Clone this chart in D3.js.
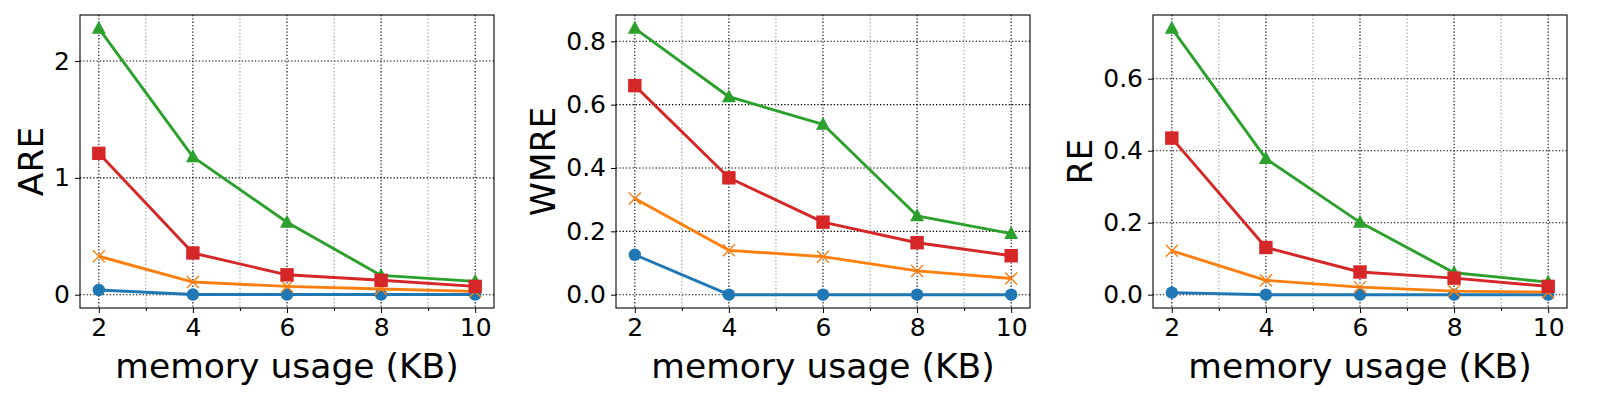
<!DOCTYPE html>
<html>
<head>
<meta charset="utf-8">
<script src="https://cdn.jsdelivr.net/npm/d3@7"></script>
<style>
  body { margin: 0; background: #fff; }
  svg { font-family: "DejaVu Sans", sans-serif; }
</style>
</head>
<body>
<div id="chart"></div>
<script>
// memory sizes (KB) on the x axis
var memory = [2, 4, 6, 8, 10];
var xTicks = [2, 4, 6, 8, 10];
var xMinor = [3, 5, 7, 9];

// ARE panel
var areBlue   = [0.04, 0.001, 0.001, 0.001, 0.001];
var areOrange = [0.329, 0.108, 0.071, 0.048, 0.028];
var areGreen  = [2.28, 1.18, 0.62, 0.165, 0.114];
var areRed    = [1.21, 0.357, 0.17, 0.123, 0.071];
var areTicks  = [0, 1, 2];

// WMRE panel
var wmreBlue   = [0.126, 0, 0, 0, 0];
var wmreOrange = [0.304, 0.140, 0.120, 0.075, 0.051];
var wmreGreen  = [0.841, 0.625, 0.538, 0.249, 0.193];
var wmreRed    = [0.66, 0.369, 0.229, 0.164, 0.123];
var wmreTicks  = [0.0, 0.2, 0.4, 0.6, 0.8];

// RE panel
var reBlue   = [0.0056, 0, 0, 0, 0];
var reOrange = [0.122, 0.040, 0.021, 0.010, 0.007];
var reGreen  = [0.74, 0.378, 0.201, 0.061, 0.035];
var reRed    = [0.435, 0.131, 0.063, 0.046, 0.023];
var reTicks  = [0.0, 0.2, 0.4, 0.6];

var panels = [
  { label: "ARE", left: 80, series: [areBlue, areOrange, areGreen, areRed], ticks: areTicks, fmt: d3.format("d") },
  { label: "WMRE", left: 616, series: [wmreBlue, wmreOrange, wmreGreen, wmreRed], ticks: wmreTicks, fmt: d3.format(".1f") },
  { label: "RE", left: 1153, series: [reBlue, reOrange, reGreen, reRed], ticks: reTicks, fmt: d3.format(".1f") }
];

var colors = ["#1f77b4", "#ff7f0e", "#2ca02c", "#d62728"];
var shapes = ["circle", "x", "triangle", "square"];

var W = 1600, H = 400,
    mTop = 15, pw = 414, ph = 293;

var svg = d3.select("#chart")
  .append("svg")
  .attr("width", W)
  .attr("height", H);

panels.forEach(function (p) {
  var x = d3.scaleLinear()
    .domain([1.6, 10.4])
    .range([0, pw]);

  // 5% padding like matplotlib's default margins
  var maxV = d3.max(p.series, function (s) { return d3.max(s); });
  var pad = maxV * 0.05;
  var y = d3.scaleLinear()
    .domain([-pad, maxV + pad])
    .range([ph, 0]);

  var g = svg.append("g")
    .attr("transform", "translate(" + p.left + "," + mTop + ")");

  // minor grid (x only)
  g.selectAll(".minor")
    .data(xMinor)
    .enter()
    .append("line")
    .attr("x1", d => x(d)).attr("x2", d => x(d))
    .attr("y1", 0).attr("y2", ph)
    .attr("stroke", "#8c8c8c")
    .attr("stroke-width", 1)
    .attr("stroke-dasharray", "1.3,2.2");

  // major grid
  g.selectAll(".vgrid")
    .data(xTicks)
    .enter()
    .append("line")
    .attr("x1", d => x(d)).attr("x2", d => x(d))
    .attr("y1", 0).attr("y2", ph)
    .attr("stroke", "#000")
    .attr("stroke-width", 1.1)
    .attr("stroke-dasharray", "1.3,2");

  g.selectAll(".hgrid")
    .data(p.ticks)
    .enter()
    .append("line")
    .attr("x1", 0).attr("x2", pw)
    .attr("y1", d => y(d)).attr("y2", d => y(d))
    .attr("stroke", "#000")
    .attr("stroke-width", 1.1)
    .attr("stroke-dasharray", "1.3,2");

  // axes
  var xAxis = g.append("g")
    .attr("transform", "translate(0," + ph + ")")
    .call(d3.axisBottom(x).tickValues(xTicks).tickSizeOuter(0).tickSize(5).tickPadding(5));
  g.append("g")
    .attr("transform", "translate(0," + ph + ")")
    .call(d3.axisBottom(x).tickValues(xMinor).tickFormat("").tickSizeOuter(0).tickSize(3))
    .select(".domain").remove();

  var yAxis = g.append("g")
    .call(d3.axisLeft(y).tickValues(p.ticks).tickFormat(p.fmt).tickSizeOuter(0).tickSize(5).tickPadding(5));

  [xAxis, yAxis].forEach(function (a) {
    a.select(".domain").remove();
    a.attr("font-family", null).attr("font-size", null);
    a.selectAll("text")
      .style("font-size", "25px")
      .attr("fill", "#000");
  });

  // lines and markers
  p.series.forEach(function (vals, si) {
    var pts = vals.map(function (v, i) { return [memory[i], v]; });
    var line = d3.line()
      .x(d => x(d[0]))
      .y(d => y(d[1]));

    g.append("path")
      .datum(pts)
      .attr("fill", "none")
      .attr("stroke", colors[si])
      .attr("stroke-width", 2.9)
      .attr("stroke-linejoin", "round")
      .attr("d", line);

    var mk = g.selectAll(".m" + si)
      .data(pts)
      .enter()
      .append("g")
      .attr("transform", d => "translate(" + x(d[0]) + "," + y(d[1]) + ")");

    if (shapes[si] === "circle") {
      mk.append("circle").attr("r", 6.2).attr("fill", colors[si]);
    } else if (shapes[si] === "square") {
      mk.append("rect").attr("x", -6.7).attr("y", -6.7)
        .attr("width", 13.4).attr("height", 13.4).attr("fill", colors[si]);
    } else if (shapes[si] === "triangle") {
      mk.append("path").attr("d", "M0,-7.5L7,5.5L-7,5.5Z").attr("fill", colors[si]);
    } else {
      mk.append("path").attr("d", "M-6,-6L6,6M-6,6L6,-6")
        .attr("stroke", colors[si]).attr("stroke-width", 1.4).attr("fill", "none");
    }
  });

  // frame
  g.append("rect")
    .attr("width", pw).attr("height", ph)
    .attr("fill", "none")
    .attr("stroke", "#000")
    .attr("stroke-width", 1.1);

  // axis labels
  g.append("text")
    .attr("x", pw / 2)
    .attr("y", 363)
    .attr("text-anchor", "middle")
    .style("font-size", "34.5px")
    .text("memory usage (KB)");

  var tb = yAxis.node().getBBox();
  g.append("text")
    .attr("transform", "translate(" + (tb.x - 11) + "," + (ph / 2) + ") rotate(-90)")
    .attr("text-anchor", "middle")
    .style("font-size", "34.5px")
    .text(p.label);
});
</script>
</body>
</html>
